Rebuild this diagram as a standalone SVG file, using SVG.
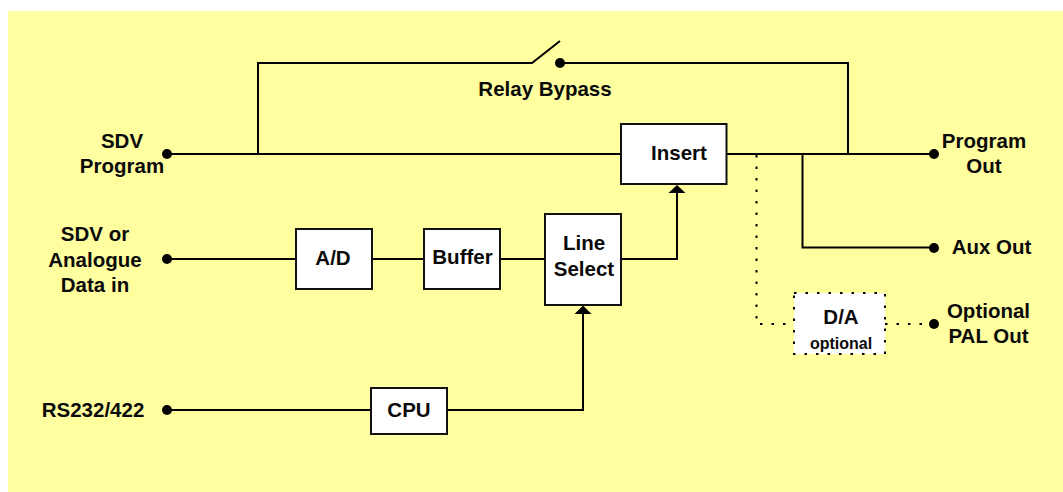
<svg xmlns="http://www.w3.org/2000/svg" width="1063" height="492" viewBox="0 0 1063 492">
<style>
text{font-family:"Liberation Sans",Arial,sans-serif;font-weight:bold;font-size:20.5px;fill:#0a0a0a;text-anchor:middle}
.w{fill:none;stroke:#000;stroke-width:2;stroke-linejoin:miter}
.d{fill:none;stroke:#000;stroke-width:2;stroke-dasharray:2.5 9}
.b{fill:#fff;stroke:#111;stroke-width:2}
.t{fill:#000;stroke:none}
</style>
<rect x="8" y="11" width="1055" height="481" fill="#ffff9f"/>
<g id="connectors">
<path class="w" d="M167 154H621M258 154V63H532L560 41M560 63H848V154M727 154H934M802.500 154V247.500H934"/>
<path class="w" d="M167 259H296M372 259H424M500 259H545M621 259H677V190"/>
<path class="w" d="M167 410H371M447 410H583V310"/>
<path class="d" d="M756.500 155V324H794M885 324H934"/>
<path class="t" d="M668.500 193L677 185L685.500 193ZM574.500 314L583 305.500L591.500 314Z"/>
<circle class="t" cx="167" cy="154" r="5"/><circle class="t" cx="167" cy="259" r="5"/><circle class="t" cx="167" cy="410" r="5"/>
<circle class="t" cx="560" cy="63" r="5"/><circle class="t" cx="934" cy="154" r="5"/><circle class="t" cx="934" cy="248" r="5"/><circle class="t" cx="934" cy="324" r="5"/>
</g>
<g id="insert"><rect class="b" x="621" y="124" width="105.500" height="60"/><text x="679" y="160">Insert</text></g>
<g id="ad"><rect class="b" x="296" y="229" width="76" height="60"/><text x="333" y="265">A/D</text></g>
<g id="buffer"><rect class="b" x="424" y="229" width="76" height="60"/><text x="462.500" y="264">Buffer</text></g>
<g id="line-select"><rect class="b" x="545" y="214" width="76" height="91"/><text x="584" y="250">Line</text><text x="584" y="276">Select</text></g>
<g id="cpu"><rect class="b" x="371" y="388" width="76" height="46"/><text x="409" y="417">CPU</text></g>
<g id="da"><rect x="794" y="293" width="91" height="61" fill="#fff"/><rect class="d" x="794" y="293" width="91" height="61"/><text x="841" y="324">D/A</text><text x="841" y="349" style="font-size:16px">optional</text></g>
<g id="labels">
<text x="122" y="148">SDV</text><text x="122" y="173">Program</text>
<text x="95" y="241">SDV or</text><text x="95" y="267">Analogue</text><text x="95" y="292">Data in</text>
<text x="93" y="417">RS232/422</text>
<text x="545" y="96">Relay Bypass</text>
<text x="984" y="148">Program</text><text x="984" y="173">Out</text>
<text x="991.500" y="254">Aux Out</text>
<text x="988.500" y="318">Optional</text><text x="988.500" y="343">PAL Out</text>
</g>
</svg>
